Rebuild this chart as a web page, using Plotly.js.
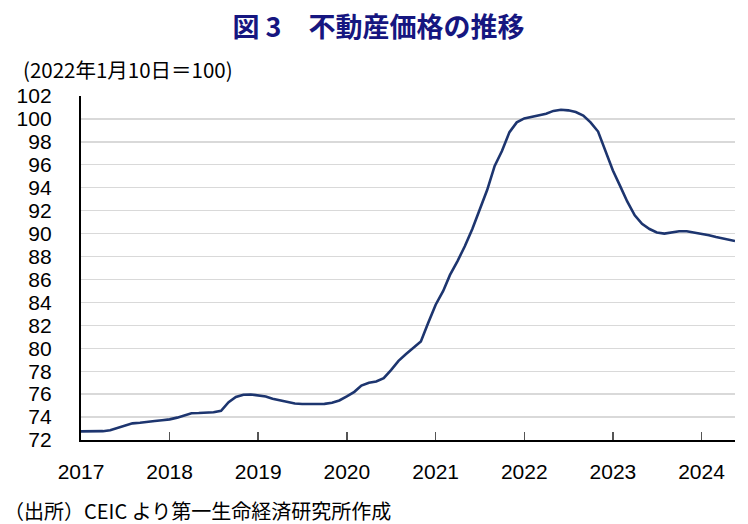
<!DOCTYPE html>
<html>
<head>
<meta charset="utf-8">
<script src="https://cdn.plot.ly/plotly-3.0.1.min.js"></script>
<style>
  html, body { margin: 0; padding: 0; background: #fff; }
  #chart { width: 748px; height: 524px; }
</style>
</head>
<body>
<div id="chart"></div>
<script>
const TITLE = "図\u00a03\u3000不動産価格の推移";
const UNIT_LABEL = "(2022年1月10日＝100)";
const SOURCE = "（出所）CEIC より第一生命経済研究所作成";

// monthly readings, Jan 2017 .. May 2024
const dates = [];
for (let y = 2017; y <= 2024; y++) {
  for (let m = 1; m <= 12; m++) {
    if (y === 2024 && m > 5) break;
    dates.push(`${y}-${String(m).padStart(2, "0")}-01`);
  }
}
dates.push("2024-05-18");

const values2017 = [72.75, 72.75, 72.75, 72.77, 72.85, 73.05, 73.3, 73.45, 73.5, 73.55, 73.65, 73.72];
const values2018 = [73.8, 73.95, 74.15, 74.33, 74.35, 74.4, 74.42, 74.55, 75.3, 75.75, 75.95, 75.97];
const values2019 = [75.9, 75.8, 75.6, 75.45, 75.3, 75.18, 75.14, 75.13, 75.14, 75.15, 75.25, 75.45];
const values2020 = [75.8, 76.2, 76.75, 77.0, 77.1, 77.4, 78.1, 78.9, 79.5, 80.0, 80.6, 82.2];
const values2021 = [83.8, 85.0, 86.4, 87.6, 88.9, 90.4, 92.0, 93.8, 95.9, 97.2, 98.85, 99.7];
const values2022 = [100.05, 100.2, 100.3, 100.45, 100.7, 100.8, 100.75, 100.6, 100.3, 99.7, 98.9, 97.3];
const values2023 = [95.5, 94.1, 92.8, 91.6, 90.85, 90.4, 90.1, 90.0, 90.1, 90.2, 90.2, 90.1];
const values2024 = [90.0, 89.85, 89.7, 89.55, 89.4, 89.35];

const values = [].concat(values2017, values2018, values2019, values2020,
  values2021, values2022, values2023, values2024);

const yearTicks = ["2017-01-01", "2018-01-01", "2019-01-01", "2020-01-01",
  "2021-01-01", "2022-01-01", "2023-01-01", "2024-01-01"];
const yearLabels = ["2017", "2018", "2019", "2020", "2021", "2022", "2023", "2024"];

const tickFont = { family: "Liberation Sans, Arial, sans-serif", size: 21, color: "#000" };
const jpFont = "Noto Sans CJK JP, sans-serif";

Plotly.newPlot("chart", [{
  x: dates,
  y: values,
  type: "scatter",
  mode: "lines",
  line: { color: "#1d356f", width: 2.6 },
  hoverinfo: "x+y"
}], {
  width: 748,
  height: 524,
  margin: { l: 81, r: 13, t: 96, b: 84 },
  paper_bgcolor: "#fff",
  plot_bgcolor: "#fff",
  showlegend: false,
  title: {
    text: "<b>" + TITLE + "</b>",
    font: { family: jpFont, size: 27, color: "#161680" },
    xref: "container", x: 0.506, xanchor: "center",
    yref: "container", y: 0.947, yanchor: "middle"
  },
  xaxis: {
    type: "date",
    range: ["2017-01-01", "2024-05-18"],
    tickvals: yearTicks,
    ticktext: yearLabels,
    ticks: "inside",
    ticklen: 8,
    tickwidth: 1.5,
    tickcolor: "#555",
    ticklabelstandoff: 12,
    showgrid: false,
    zeroline: false,
    showline: true,
    linecolor: "#000",
    linewidth: 1.8,
    tickfont: tickFont
  },
  yaxis: {
    range: [72, 102],
    dtick: 2,
    tick0: 72,
    ticks: "",
    ticksuffix: "    ",
    showgrid: true,
    gridcolor: "#d9d9d9",
    gridwidth: 1.3,
    zeroline: false,
    showline: true,
    linecolor: "#000",
    linewidth: 1.8,
    tickfont: tickFont
  },
  annotations: [
    {
      text: UNIT_LABEL,
      xref: "paper", yref: "paper",
      x: -0.092, y: 1.078, xanchor: "left", yanchor: "middle",
      showarrow: false,
      font: { family: jpFont, size: 20.5, color: "#000" }
    },
    {
      text: SOURCE,
      xref: "paper", yref: "paper",
      x: -0.121, y: -0.205, xanchor: "left", yanchor: "middle",
      showarrow: false,
      font: { family: jpFont, size: 20, color: "#000" }
    }
  ]
}, { displayModeBar: false, staticPlot: true });
</script>
</body>
</html>
